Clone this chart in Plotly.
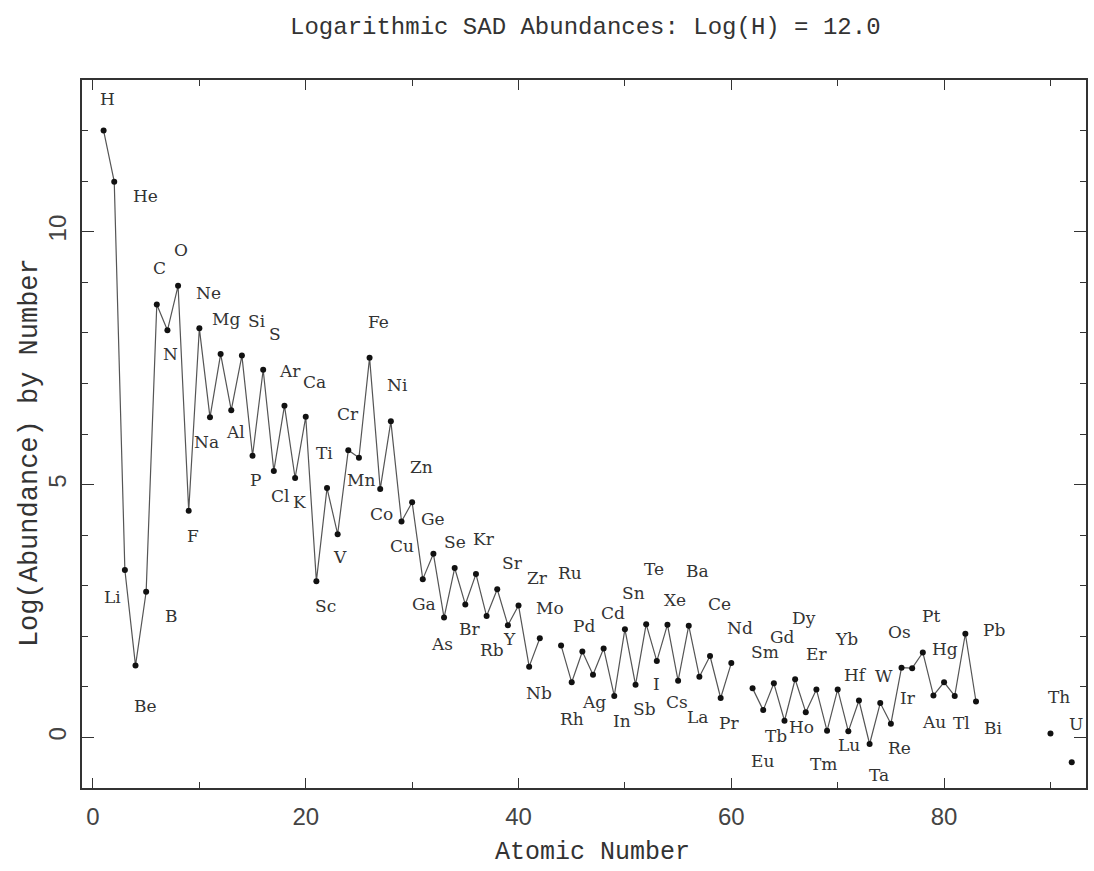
import plotly.graph_objects as go

# ---- data (Anders & Grevesse type solar abundances) ----
symbols = ["H", "He", "Li", "Be", "B", "C", "N", "O", "F", "Ne",
           "Na", "Mg", "Al", "Si", "P", "S", "Cl", "Ar", "K", "Ca",
           "Sc", "Ti", "V", "Cr", "Mn", "Fe", "Co", "Ni", "Cu", "Zn",
           "Ga", "Ge", "As", "Se", "Br", "Kr", "Rb", "Sr", "Y", "Zr",
           "Nb", "Mo", "Ru", "Rh", "Pd", "Ag", "Cd", "In", "Sn", "Sb",
           "Te", "I", "Xe", "Cs", "Ba", "La", "Ce", "Pr", "Nd", "Sm",
           "Eu", "Gd", "Tb", "Dy", "Ho", "Er", "Tm", "Yb", "Lu", "Hf",
           "Ta", "W", "Re", "Os", "Ir", "Pt", "Au", "Hg", "Tl", "Pb",
           "Bi", "Th", "U"]
atomic_number = [1, 2, 3, 4, 5, 6, 7, 8, 9, 10,
                 11, 12, 13, 14, 15, 16, 17, 18, 19, 20,
                 21, 22, 23, 24, 25, 26, 27, 28, 29, 30,
                 31, 32, 33, 34, 35, 36, 37, 38, 39, 40,
                 41, 42, 44, 45, 46, 47, 48, 49, 50, 51,
                 52, 53, 54, 55, 56, 57, 58, 59, 60, 62,
                 63, 64, 65, 66, 67, 68, 69, 70, 71, 72,
                 73, 74, 75, 76, 77, 78, 79, 80, 81, 82,
                 83, 90, 92]
log_abundance = [12.00, 10.99, 3.31, 1.42, 2.88, 8.56, 8.05, 8.93, 4.48, 8.09,
                 6.33, 7.58, 6.47, 7.55, 5.57, 7.27, 5.27, 6.56, 5.13, 6.34,
                 3.09, 4.93, 4.02, 5.68, 5.53, 7.51, 4.91, 6.25, 4.27, 4.65,
                 3.13, 3.63, 2.37, 3.35, 2.63, 3.23, 2.40, 2.93, 2.22, 2.61,
                 1.40, 1.96, 1.82, 1.09, 1.70, 1.24, 1.76, 0.82, 2.14, 1.04,
                 2.24, 1.51, 2.23, 1.12, 2.21, 1.20, 1.61, 0.78, 1.47, 0.97,
                 0.54, 1.07, 0.33, 1.15, 0.50, 0.95, 0.13, 0.95, 0.12, 0.73,
                 -0.13, 0.68, 0.27, 1.38, 1.37, 1.68, 0.83, 1.09, 0.82, 2.05,
                 0.71, 0.08, -0.49]

x_ticks = [0, 20, 40, 60, 80]
y_ticks = [0, 5, 10]

# ---- label placement (pixel offsets from each point: dx right, dy down) ----
label_offsets = {
    "H": (4, -32), "He": (31, 14), "Li": (-12, 27), "Be": (10, 40), "B": (25, 24),
    "C": (3, -37), "N": (3, 24), "O": (3, -36), "F": (4, 25), "Ne": (9, -35),
    "Na": (-3, 25), "Mg": (5, -35), "Al": (4, 22), "Si": (15, -35), "P": (3, 24),
    "S": (12, -36), "Cl": (6, 25), "Ar": (6, -35), "K": (4, 24), "Ca": (9, -35),
    "Sc": (9, 25), "Ti": (-3, -35), "V": (2, 23), "Cr": (0, -36), "Mn": (2, 22),
    "Fe": (9, -36), "Co": (1, 25), "Ni": (7, -36), "Cu": (1, 25), "Zn": (9, -35),
    "Ga": (1, 25), "Ge": (0, -35), "As": (-2, 26), "Se": (0, -26), "Br": (4, 25),
    "Kr": (8, -35), "Rb": (5, 34), "Sr": (15, -26), "Y": (2, 14), "Zr": (19, -27),
    "Nb": (10, 26), "Mo": (10, -30), "Ru": (9, -72), "Rh": (0, 37), "Pd": (2, -25),
    "Ag": (1, 27), "Cd": (9, -35), "In": (8, 25), "Sn": (9, -36), "Sb": (9, 24),
    "Te": (8, -55), "I": (0, 23), "Xe": (8, -25), "Cs": (-1, 21), "Ba": (9, -55),
    "La": (-2, 40), "Ce": (9, -52), "Pr": (8, 25), "Nd": (9, -35), "Sm": (12, -36),
    "Eu": (-1, 51), "Gd": (9, -46), "Tb": (-8, 15), "Dy": (9, -61), "Ho": (-4, 15),
    "Er": (0, -35), "Tm": (-4, 33), "Yb": (9, -50), "Lu": (1, 14), "Hf": (-3, -26),
    "Ta": (9, 31), "W": (4, -27), "Re": (9, 24), "Os": (-2, -36), "Ir": (-4, 30),
    "Pt": (8, -36), "Au": (1, 27), "Hg": (1, -33), "Tl": (7, 27), "Pb": (29, -4),
    "Bi": (17, 26), "Th": (9, -36), "U": (4, -38),
}

# line broken wherever atomic numbers are not consecutive
line_x, line_y = [], []
for i, (z, v) in enumerate(zip(atomic_number, log_abundance)):
    if i > 0 and z - atomic_number[i - 1] > 1:
        line_x.append(None)
        line_y.append(None)
    line_x.append(z)
    line_y.append(v)

fig = go.Figure()
fig.add_trace(go.Scatter(
    x=line_x, y=line_y, mode="lines", connectgaps=False,
    line=dict(color="#555555", width=1.2), hoverinfo="skip", showlegend=False))
fig.add_trace(go.Scatter(
    x=atomic_number, y=log_abundance, mode="markers", text=symbols,
    marker=dict(color="#111111", size=6), showlegend=False))

for s, z, v in zip(symbols, atomic_number, log_abundance):
    dx, dy = label_offsets.get(s, (0, -30))
    fig.add_annotation(x=z, y=v, xref="x", yref="y", text=s, showarrow=False,
                       xshift=dx, yshift=-dy,
                       font=dict(family="DejaVu Serif", size=17, color="#333333"))

# axis titles
fig.add_annotation(text="Atomic Number", xref="paper", yref="paper",
                   x=(594 - 82) / 1006, y=-(853 - 788) / 708,
                   xanchor="center", yanchor="middle", showarrow=False,
                   font=dict(family="Liberation Mono", size=25, color="#333333"))
fig.add_annotation(text="Log(Abundance) by Number", xref="paper", yref="paper",
                   x=-(82 - 30) / 1006, y=(788 - 453) / 708, textangle=-90,
                   xanchor="center", yanchor="middle", showarrow=False,
                   font=dict(family="Liberation Mono", size=27, color="#333333"))

axis_common = dict(showline=True, linecolor="#333333", linewidth=1.8, mirror="ticks",
                   ticks="inside", tickcolor="#333333", tickwidth=1.3,
                   showgrid=False, zeroline=False,
                   tickfont=dict(family="Liberation Sans", size=24, color="#444444"))

fig.update_layout(
    width=1094, height=871,
    paper_bgcolor="white", plot_bgcolor="white",
    margin=dict(l=82, r=6, t=80, b=83),
    title=dict(text="Logarithmic SAD Abundances: Log(H) = 12.0",
               x=0.535, xanchor="center", y=0.971, yref="container", yanchor="middle",
               font=dict(family="Liberation Mono", size=24, color="#333333")),
    xaxis=dict(range=[-1.03, 93.34], tickvals=x_ticks, ticklen=10, ticklabelstandoff=6,
               minor=dict(dtick=10, tick0=0, ticklen=6, ticks="inside", tickcolor="#333333"),
               **axis_common),
    yaxis=dict(range=[-1, 13], tickvals=y_ticks, ticklen=12, tickangle=-90,
               ticklabelstandoff=5,
               minor=dict(dtick=1, tick0=0, ticklen=6, ticks="inside", tickcolor="#333333"),
               **axis_common),
)

fig.write_html("out.html")
